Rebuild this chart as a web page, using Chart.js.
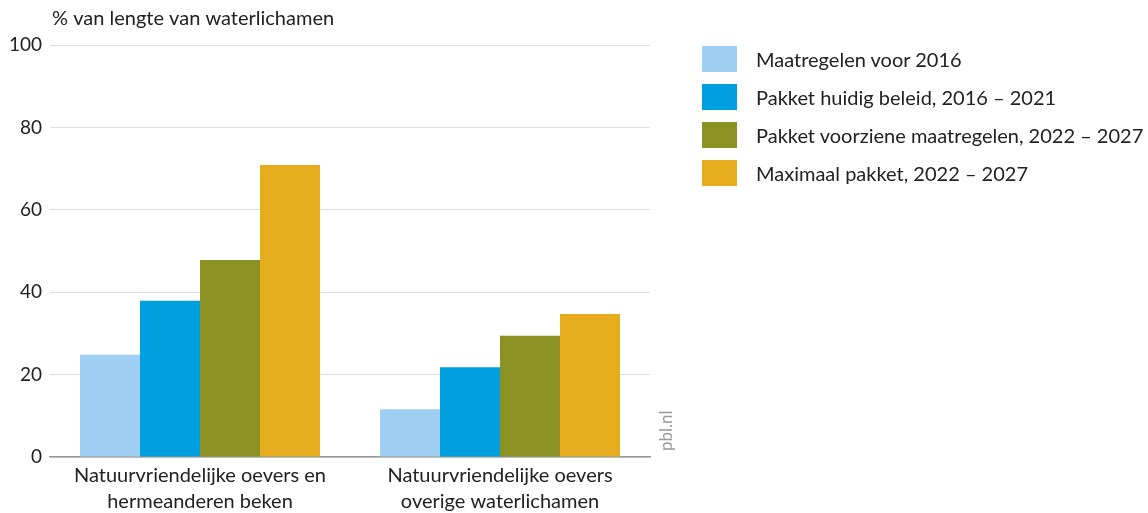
<!DOCTYPE html>
<html>
<head>
<meta charset="utf-8">
<script src="https://cdn.jsdelivr.net/npm/chart.js@4"></script>
<style>
  body { margin: 0; background: #fff; font-family: Lato, "Open Sans", sans-serif; }
  #wrap { position: relative; width: 1148px; height: 513px; }
  #legend { position: absolute; left: 702px; top: 40px; }
  .item { display: flex; align-items: center; height: 38px; font-size: 20px; color: #222; white-space: nowrap; }
  .box { width: 35px; height: 26px; margin-right: 19px; }
</style>
</head>
<body>
<div id="wrap">
  <canvas id="chart" width="1148" height="513"></canvas>
  <div id="legend"></div>
</div>
<script>
// data
const categories = [
  ['Natuurvriendelijke oevers en', 'hermeanderen beken'],
  ['Natuurvriendelijke oevers', 'overige waterlichamen']
];
const seriesNames = [
  'Maatregelen voor 2016',
  'Pakket huidig beleid, 2016 – 2021',
  'Pakket voorziene maatregelen, 2022 – 2027',
  'Maximaal pakket, 2022 – 2027'
];
const voor2016 = [24.8, 11.6];
const huidigBeleid = [37.9, 21.8];
const voorziene = [47.8, 29.4];
const maximaal = [70.9, 34.7];
const yTicks = [0, 20, 40, 60, 80, 100];
const colors = ['#9fcff3', '#009fe0', '#8c9124', '#e5ac1e'];

const values = [voor2016, huidigBeleid, voorziene, maximaal];
const textColor = '#222';

// legend as html
const legend = document.getElementById('legend');
seriesNames.forEach((name, i) => {
  const row = document.createElement('div');
  row.className = 'item';
  row.innerHTML = '<span class="box" style="background:' + colors[i] + '"></span>' + name;
  legend.appendChild(row);
});

// y axis title and pbl.nl mark
const extras = {
  id: 'extras',
  afterDraw(chart) {
    const ctx = chart.ctx;
    const area = chart.chartArea;
    ctx.save();
    ctx.fillStyle = textColor;
    ctx.font = '20px Lato';
    ctx.textBaseline = 'middle';
    ctx.textAlign = 'left';
    ctx.fillText('% van lengte van waterlichamen', area.left + 2, 19);
    ctx.translate(area.right + 17, area.bottom - 6);
    ctx.rotate(-Math.PI / 2);
    ctx.fillStyle = '#9a9a9a';
    ctx.font = '17px Lato';
    ctx.fillText('pbl.nl', 0, 0);
    ctx.restore();
  }
};

new Chart(document.getElementById('chart'), {
  type: 'bar',
  data: {
    labels: categories,
    datasets: seriesNames.map((name, i) => ({
      label: name,
      data: values[i],
      backgroundColor: colors[i],
      borderWidth: 0,
      categoryPercentage: 0.8,
      barPercentage: 1.0
    }))
  },
  options: {
    responsive: false,
    animation: false,
    layout: { padding: { top: 45, right: 498, bottom: 0, left: 0 } },
    plugins: {
      legend: { display: false },
      tooltip: { enabled: false }
    },
    scales: {
      x: {
        grid: { display: false, drawTicks: false },
        border: { color: '#999', width: 1.5 },
        ticks: { color: textColor, font: { family: 'Lato', size: 20, lineHeight: 1.3 }, padding: 6 },
        afterFit(s) { s.height = 56; }
      },
      y: {
        min: 0,
        max: 100,
        afterBuildTicks(s) { s.ticks = yTicks.map(v => ({ value: v })); },
        grid: { color: '#dedede', drawTicks: false },
        border: { display: false },
        ticks: { color: textColor, font: { family: 'Lato', size: 19 }, padding: 8 },
        afterFit(s) { s.width = 50; }
      }
    }
  },
  plugins: [extras]
});
</script>
</body>
</html>
